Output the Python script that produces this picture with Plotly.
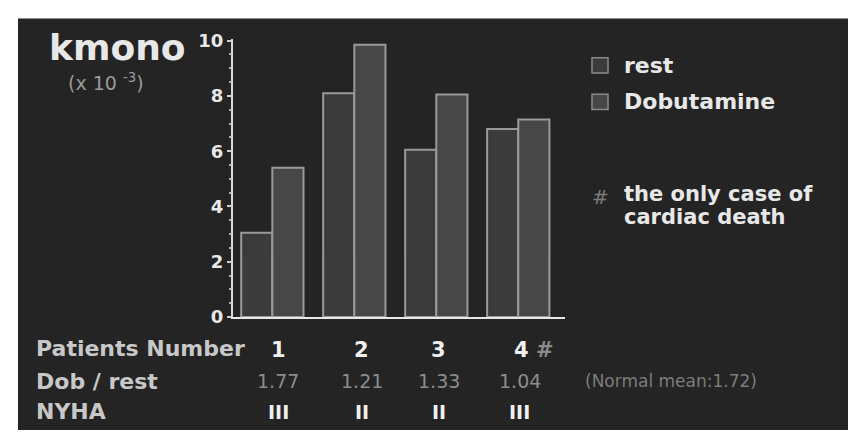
import plotly.graph_objects as go

patients = ["1", "2", "3", "4"]
rest = [3.05, 8.1, 6.05, 6.8]
dobutamine = [5.4, 9.85, 8.05, 7.15]
patient_labels = ["1", "2", "3", "4 <span style='color:#8a8a8a'>#</span>"]
dob_rest = ["1.77", "1.21", "1.33", "1.04"]
nyha = ["III", "II", "II", "III"]
y_ticks = [0, 2, 4, 6, 8, 10]

W, H = 854, 440
FONT = "DejaVu Sans, sans-serif"
REST_FILL, DOB_FILL, EDGE = "#3b3b3b", "#474747", "#9a9a9a"

def px(x):
    return x / W

def py(y):
    return (H - y) / H

xs = list(range(len(patients)))

fig = go.Figure()
fig.add_trace(go.Bar(
    x=xs, y=rest, name="rest",
    marker=dict(color=REST_FILL, line=dict(color=EDGE, width=2)),
))
fig.add_trace(go.Bar(
    x=xs, y=dobutamine, name="Dobutamine",
    marker=dict(color=DOB_FILL, line=dict(color=EDGE, width=2)),
))

shapes = [dict(
    type="rect", xref="paper", yref="paper", layer="below",
    x0=px(18), x1=px(848), y0=0, y1=py(10),
    fillcolor="#242424", line=dict(width=0),
)]
# legend swatches
for fill, yc in [(REST_FILL, 59), (DOB_FILL, 97)]:
    shapes.append(dict(
        type="rect", xref="paper", yref="paper",
        x0=px(592), x1=px(608), y0=py(yc + 8), y1=py(yc - 8),
        fillcolor=fill, line=dict(color="#8a8a8a", width=1.5),
    ))

fig.update_layout(
    width=W, height=H,
    margin=dict(l=0, r=0, t=0, b=0),
    paper_bgcolor="white",
    plot_bgcolor="#1b1b1b",
    barmode="group", bargap=0.24, bargroupgap=0.0,
    font=dict(family=FONT, color="#e0e0e0"),
    showlegend=False,
    xaxis=dict(
        domain=[px(233), px(565)], range=[-0.48, 3.57],
        showticklabels=False, ticks="", showgrid=False, zeroline=False,
        showline=True, linecolor="#e8e8e8", linewidth=2,
    ),
    yaxis=dict(
        domain=[py(322), py(31)], range=[0, 10.07],
        tickvals=y_ticks, ticktext=["<b>%d</b>" % v for v in y_ticks],
        ticks="outside", ticklen=4, tickcolor="#d0d0d0", tickwidth=1.5,
        tickfont=dict(size=18, color="#e8e8e8", family=FONT),
        minor=dict(dtick=0.5, ticks="outside", ticklen=2, tickcolor="#aaaaaa"),
        showgrid=False, zeroline=False,
        showline=True, linecolor="#d8d8d8", linewidth=2,
    ),
    shapes=shapes,
)

ann = []
def add(text, x, y, size, color="#e8e8e8", xref="paper", xanchor="left", bold=True):
    ann.append(dict(
        text=("<b>%s</b>" % text) if bold else text,
        x=x, y=y, xref=xref, yref="paper", xanchor=xanchor, yanchor="middle",
        showarrow=False, align="left", font=dict(size=size, color=color, family=FONT),
    ))

add("kmono", px(47), py(40), 36, "#e8e8e8")
add("(x 10 <sup>-3</sup>)", px(66), py(76), 19, "#9a9a9a", bold=False)

add("rest", px(622), py(59), 22, "#e8e8e8")
add("Dobutamine", px(622), py(97), 22, "#e8e8e8")
add("#", px(590), py(196), 20, "#7a7a7a", bold=False)
add("the only case of", px(622), py(193), 21, "#e8e8e8")
add("cardiac death", px(622), py(217), 21, "#e8e8e8")

add("Patients Number", px(34), py(355), 22, "#c8c8c8")
add("Dob / rest", px(34), py(389), 22, "#c8c8c8")
add("NYHA", px(34), py(421), 22, "#c8c8c8")

offsets = [0.07, 0.09, 0.03, 0.02]
for i in xs:
    xo = i + offsets[i]
    add(patient_labels[i], xo if i < 3 else xo + 0.17, py(356), 21, "#f0f0f0", xref="x", xanchor="center")
    add(dob_rest[i], xo, py(389), 19, "#8c8c8c", xref="x", xanchor="center", bold=False)
    add(nyha[i], xo, py(421), 19, "#f0f0f0", xref="x", xanchor="center")

add("(Normal mean:1.72)", px(671), py(389), 17, "#7c7c7c", xanchor="center", bold=False)

fig.update_layout(annotations=ann)

fig.write_html("out.html")
